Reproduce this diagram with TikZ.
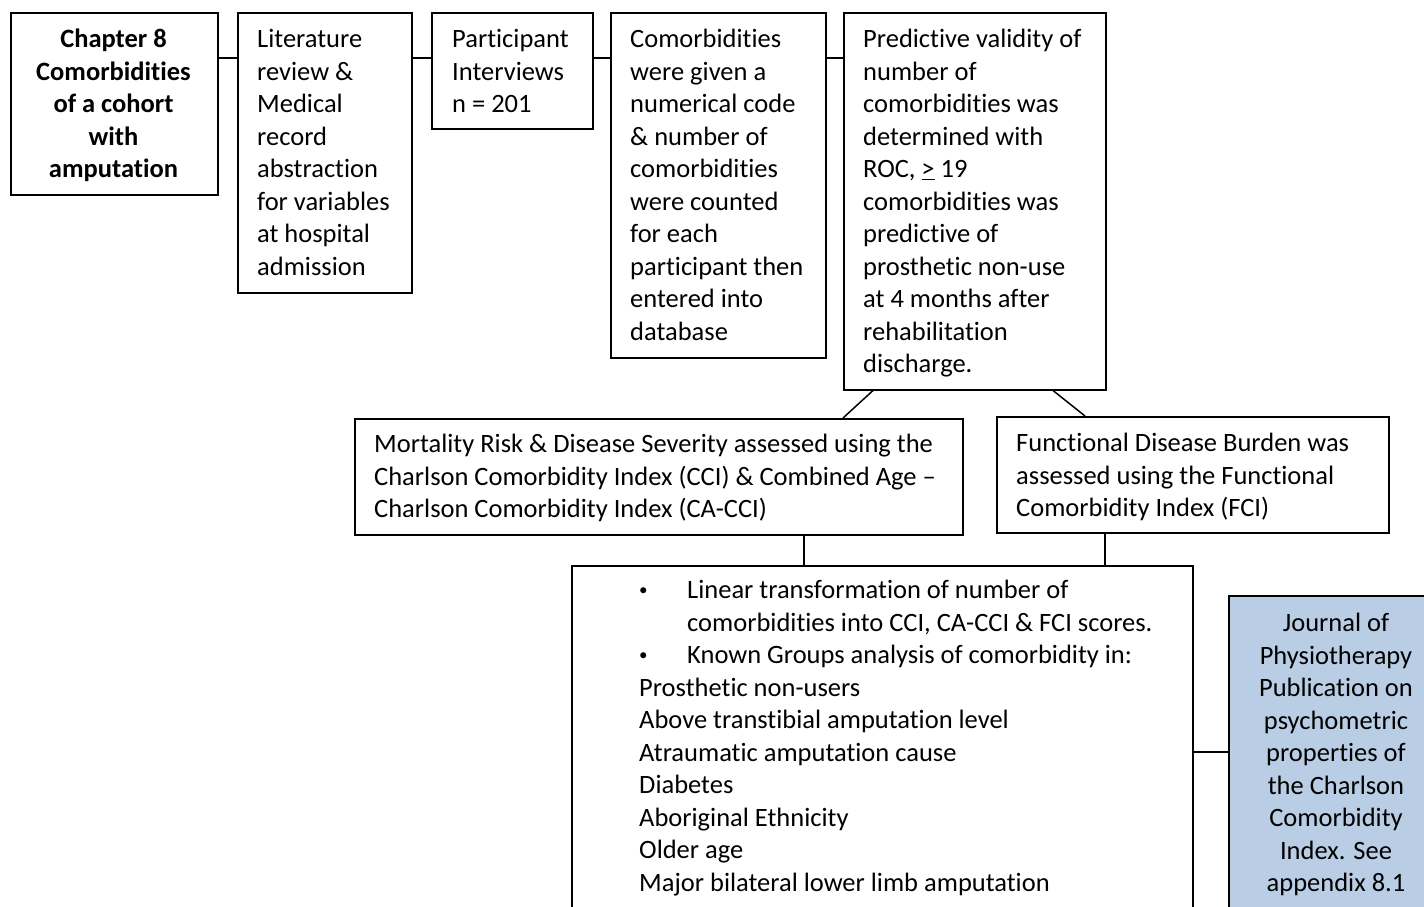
\documentclass[tikz,border=0pt]{standalone}
\usepackage{fontspec}
\setmainfont{Carlito}[Ligatures={TeX,NoCommon}]
\usetikzlibrary{calc}
\definecolor{paleblue}{RGB}{185,205,229}
% body text: 26.5/32.5 with a strut matching the line box
\newcommand\bodyfont{\fontsize{26.5}{32.5}\selectfont}
\newcommand\ls{\rule[-7.2pt]{0pt}{32.5pt}}
\newcommand\bul{\makebox[48pt][l]{\raisebox{3pt}{\fontsize{17}{17}\selectfont\textbullet}}}
\newcommand\ind{\hspace*{48pt}}
\tikzset{
  box/.style={draw=black, line width=1.5pt, inner sep=0pt, anchor=north west, fill=white},
  bluebox/.style={box, fill=paleblue},
  txt/.style={inner sep=0pt, anchor=north west, align=left, font=\bodyfont},
  ctxt/.style={inner sep=0pt, anchor=north, align=center, font=\bodyfont},
  link/.style={draw=black, line width=1.5pt},
}
\begin{document}
\begin{tikzpicture}[x=1pt, y=-1pt]
\clip (0,0) rectangle (1424,906);
\fill[white] (0,0) rectangle (1424,906);

% top row
\node[box, minimum width=207, minimum height=182] (A) at (10,12) {};
\node[ctxt, font=\bodyfont\bfseries] (At) at (113.5,22) {\ls Chapter 8\\Comorbidities\\of a cohort\\with\\amputation\ls};

\node[box, minimum width=174, minimum height=280] (B) at (237,12) {};
\node[txt] (Bt) at (257,22) {\ls Literature\\review \&\\Medical\\record\\abstraction\\for variables\\at hospital\\admission\ls};

\node[box, minimum width=161, minimum height=116] (C) at (431,12) {};
\node[txt] (Ct) at (452,22) {\ls Participant\\Interviews\\n = 201\ls};

\node[box, minimum width=215, minimum height=345] (D) at (610,12) {};
\node[txt] (Dt) at (630,22) {\ls Comorbidities\\were given a\\numerical code\\\& number of\\comorbidities\\were counted\\for each\\participant then\\entered into\\database\ls};

\node[box, minimum width=262, minimum height=377] (E) at (843,12) {};
\node[txt] (Et) at (863,22) {\ls Predictive validity of\\number of\\comorbidities was\\determined with\\ROC, \underline{>} 19\\comorbidities was\\predictive of\\prosthetic non-use\\at 4 months after\\rehabilitation\\discharge.\ls};

% middle row
\node[box, minimum width=608, minimum height=116] (F) at (354,418) {};
\node[txt] (Ft) at (374,427) {\ls Mortality Risk \& Disease Severity assessed using the\\Charlson Comorbidity Index (CCI) \& Combined Age –\\Charlson Comorbidity Index (CA-CCI)\ls};

\node[box, minimum width=392, minimum height=116] (G) at (996,416) {};
\node[txt] (Gt) at (1016,426) {\ls Functional Disease Burden was\\assessed using the Functional\\Comorbidity Index (FCI)\ls};

% bottom row
\node[box, minimum width=621, minimum height=380] (H) at (571,565) {};
\node[txt] (Ht) at (639,573) {\ls\bul Linear transformation of number of\\\ind comorbidities into CCI, CA-CCI \& FCI scores.\\\bul Known Groups analysis of comorbidity in:\\Prosthetic non-users\\Above transtibial amputation level\\Atraumatic amputation cause\\Diabetes\\Aboriginal Ethnicity\\Older age\\Major bilateral lower limb amputation\ls};

\node[bluebox, minimum width=216, minimum height=340] (I) at (1228,595) {};
\node[ctxt] (It) at (1336,606) {\ls Journal of\\Physiotherapy\\Publication on\\psychometric\\properties of\\the Charlson\\Comorbidity\\Index. See\\appendix 8.1\ls};

% connectors
\draw[link] (A.east |- 0,58) -- (B.west |- 0,58);
\draw[link] (B.east |- 0,58) -- (C.west |- 0,58);
\draw[link] (C.east |- 0,58) -- (D.west |- 0,58);
\draw[link] (D.east |- 0,58) -- (E.west |- 0,58);
\draw[link] (873,0 |- E.south) -- (843,0 |- F.north);
\draw[link] (1053,0 |- E.south) -- (1085,0 |- G.north);
\draw[link] (804,0 |- F.south) -- (804,0 |- H.north);
\draw[link] (1105,0 |- G.south) -- (1105,0 |- H.north);
\draw[link] (H.east |- 0,752) -- (I.west |- 0,752);
\end{tikzpicture}
\end{document}
